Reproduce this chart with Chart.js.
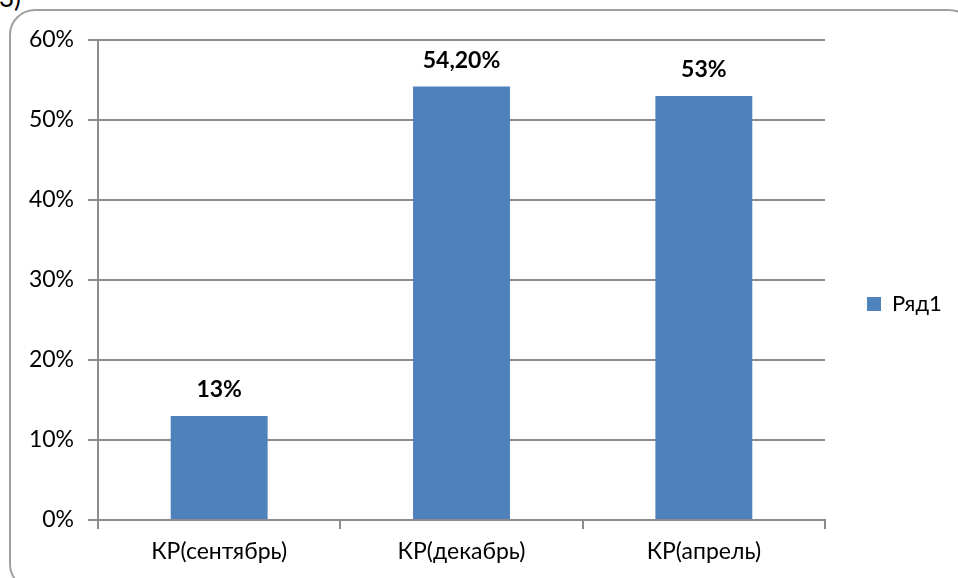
<!DOCTYPE html>
<html>
<head>
<meta charset="utf-8">
<script src="https://cdn.jsdelivr.net/npm/chart.js@4.4.0/dist/chart.umd.min.js"></script>
<style>
  html, body { margin: 0; padding: 0; background: #fff; overflow: hidden; }
  #wrap { position: relative; width: 958px; height: 578px; overflow: hidden; }
  #frame {
    position: absolute; left: 9px; top: 9px; width: 966px; height: 581px;
    border: 2px solid #a0a0a0; border-radius: 26px; box-sizing: border-box;
  }
  #num { position: absolute; left: -1px; top: -19px; font: 26px Lato, sans-serif; color: #000; }
  #c { position: absolute; left: 0; top: 0; }
</style>
</head>
<body>
<div id="wrap">
  <div id="frame"></div>
  <div id="num">3)</div>
  <canvas id="c" width="958" height="578"></canvas>
</div>
<script>
// -------- data --------
const categories = ["КР(сентябрь)", "КР(декабрь)", "КР(апрель)"];
const values     = [13, 54.2, 53];
const valueLabels = ["13%", "54,20%", "53%"];
const seriesName = "Ряд1";
const yTicks     = [0, 10, 20, 30, 40, 50, 60];

const FONT = "Lato, 'Open Sans', sans-serif";
const GRID = "#8c8c8c";
const BAR  = "#4f81bd";
const LEGEND_W = 133;

// подписи над столбиками
const barLabels = {
  id: "barLabels",
  afterDatasetsDraw(chart) {
    const ctx = chart.ctx;
    const meta = chart.getDatasetMeta(0);
    ctx.save();
    ctx.font = "bold 23px " + FONT;
    ctx.fillStyle = "#000";
    ctx.textAlign = "center";
    ctx.textBaseline = "middle";
    meta.data.forEach((bar, i) => {
      ctx.fillText(valueLabels[i], bar.x, bar.y - 26);
    });
    ctx.restore();
  }
};

// ширина легенды фиксированная (как в Excel)
const legendWidth = {
  id: "legendWidth",
  beforeLayout(chart) {
    const lg = chart.legend;
    if (!lg || lg._fixed) return;
    const fit = lg.fit.bind(lg);
    lg.fit = function () { fit(); this.width = LEGEND_W; };
    lg._fixed = true;
  }
};

new Chart(document.getElementById("c"), {
  type: "bar",
  data: {
    labels: categories,
    datasets: [{
      label: seriesName,
      data: values,
      backgroundColor: BAR,
      categoryPercentage: 1,
      barPercentage: 0.4
    }]
  },
  options: {
    responsive: false,
    animation: false,
    devicePixelRatio: 1,
    layout: { padding: { left: 10, top: 40, right: 0, bottom: 10 } },
    plugins: {
      tooltip: { enabled: false },
      legend: {
        position: "right",
        labels: {
          font: { family: FONT, size: 22 },
          color: "#000",
          boxWidth: 14, boxHeight: 14, padding: 42
        }
      }
    },
    scales: {
      x: {
        grid: { drawOnChartArea: false, color: GRID, tickLength: 9, lineWidth: 2 },
        border: { color: GRID, width: 2 },
        ticks: { font: { family: FONT, size: 23 }, color: "#000", padding: 9 },
        afterFit(s) { s.height = 48; }
      },
      y: {
        min: 0, max: 60,
        afterBuildTicks(s) { s.ticks = yTicks.map(v => ({ value: v })); },
        grid: { color: GRID, tickLength: 10, lineWidth: 2 },
        border: { color: GRID, width: 2 },
        ticks: {
          font: { family: FONT, size: 23 }, color: "#000", padding: 14,
          callback: v => v + "%"
        },
        afterFit(s) { s.width = 88; }
      }
    }
  },
  plugins: [barLabels, legendWidth]
});
</script>
</body>
</html>
